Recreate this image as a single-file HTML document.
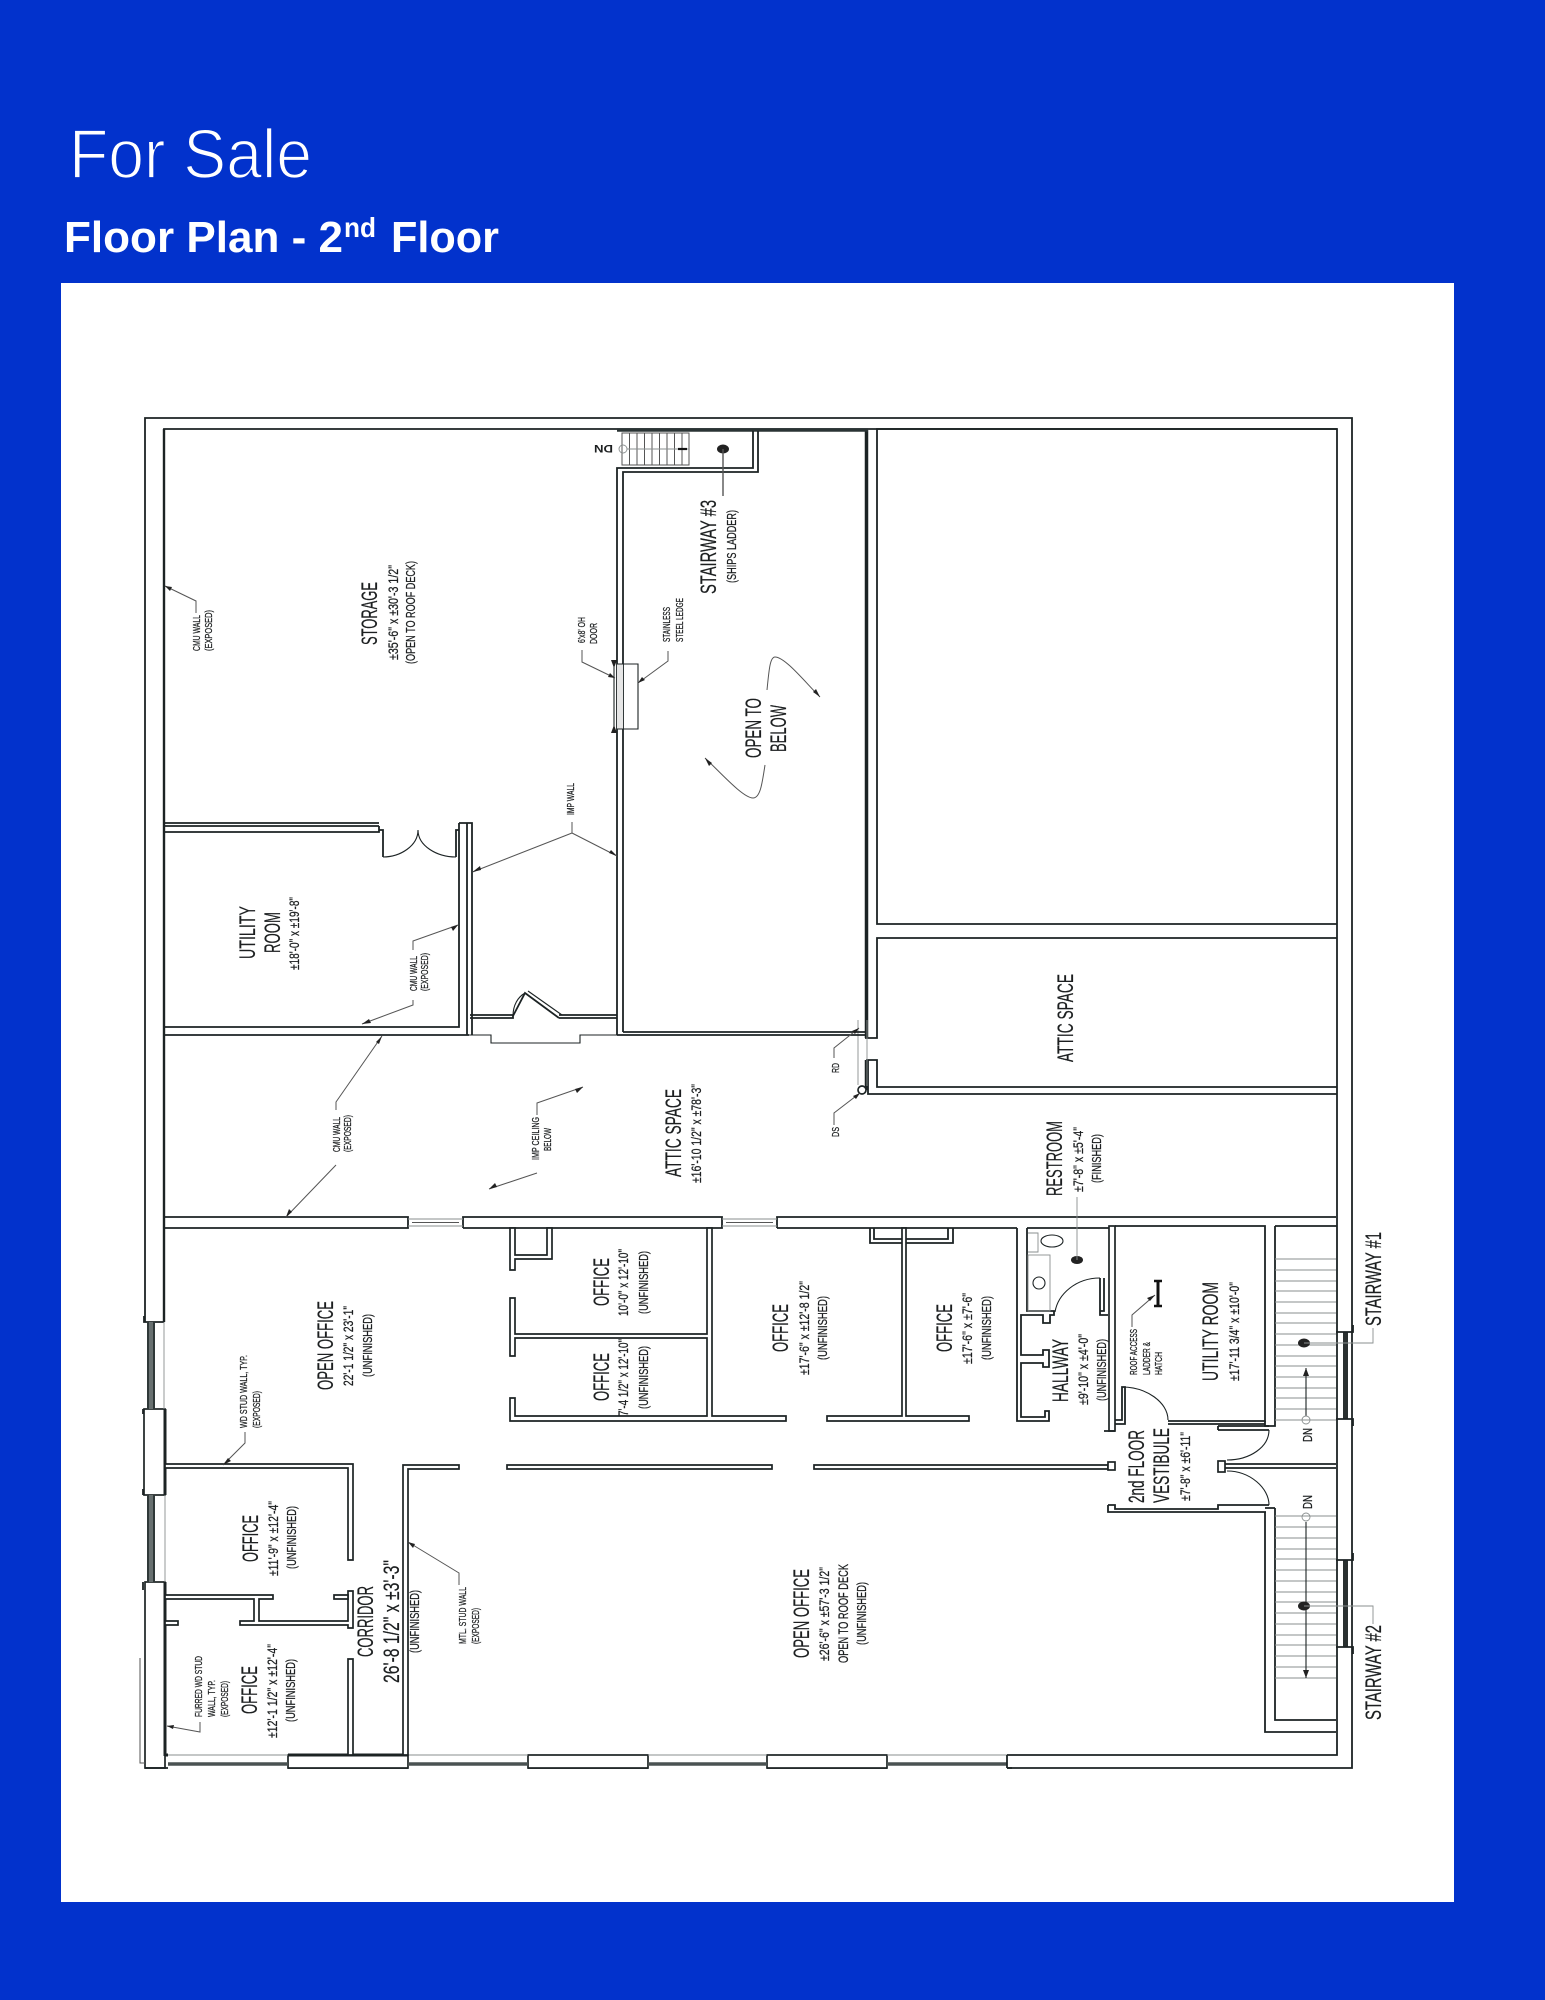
<!DOCTYPE html>
<html>
<head>
<meta charset="utf-8">
<style>
html,body{margin:0;padding:0;background:#0232cc}
svg{display:block}
text{font-family:"Liberation Sans",sans-serif;fill:#1c1f20}
.l{font-size:22px;stroke:#1c1f20;stroke-width:.2px}
.m{font-size:14px;stroke:#1c1f20;stroke-width:.25px}
.p{font-size:13px;stroke:#1c1f20;stroke-width:.25px}
.s{font-size:10px;stroke:#1c1f20;stroke-width:.25px}
.w{fill:none;stroke:#1c2324;stroke-width:1.8}
.t{fill:none;stroke:#1c2324;stroke-width:1.1}
.b{fill:#fff;stroke:#1c2324;stroke-width:1.7}
.g{fill:none;stroke:#8a8f8f;stroke-width:.9}
.r{fill:none;stroke:#555;stroke-width:1}
.a{fill:#222;stroke:none}
</style>
</head>
<body>
<svg width="1545" height="2000" viewBox="0 0 1545 2000" xmlns="http://www.w3.org/2000/svg">
<rect width="1545" height="2000" fill="#0232cc"/>
<rect x="61" y="283" width="1393" height="1619" fill="#fff"/>

<text x="69" y="178" font-size="70" textLength="243" lengthAdjust="spacingAndGlyphs" style="fill:#fff;stroke:#0232cc;stroke-width:1.7px">For Sale</text>
<text x="64" y="252" font-size="44" font-weight="700" textLength="279" lengthAdjust="spacingAndGlyphs" style="fill:#fff">Floor Plan - 2</text>
<text x="344" y="237" font-size="28" font-weight="700" textLength="32" lengthAdjust="spacingAndGlyphs" style="fill:#fff">nd</text>
<text x="391" y="252" font-size="44" font-weight="700" textLength="108" lengthAdjust="spacingAndGlyphs" style="fill:#fff">Floor</text>

<!-- building shell -->
<path class="w" d="M145 1322V418H1352V1768H1007"/>
<path class="w" d="M164 1322V429H1337V1755H1007"/>
<path class="w" style="stroke-width:2.4" d="M164 429V1322"/>

<!-- left wall piers and windows -->
<rect class="b" x="144" y="1409" width="21" height="86"/>
<rect class="b" x="145" y="1582" width="20" height="186"/>
<path class="w" style="stroke-width:3" d="M165 1409V1495M165 1582V1756"/>
<path class="w" d="M144 1316V1322H164M143 1409V1414M143 1495V1489M143 1582V1590"/>
<rect x="147" y="1322" width="8" height="87" fill="#687070"/>
<rect x="147" y="1495" width="8" height="87" fill="#687070"/>
<path d="M148 1322V1409M154 1322V1409M148 1495V1582M154 1495V1582" style="stroke:#2f3838;stroke-width:2;fill:none"/>
<path class="g" d="M164 1322V1409M165 1495V1582"/>
<path class="r" d="M140 1658V1763H145"/>

<!-- bottom wall piers/windows -->
<path class="w" d="M145 1768H168M288 1768H408M528 1768H648M767 1768H887M1007 1768H1012"/>
<rect class="b" x="288" y="1755" width="120" height="13"/>
<rect class="b" x="528" y="1755" width="120" height="13"/>
<rect class="b" x="767" y="1755" width="120" height="13"/>
<path class="w" style="stroke-width:3" d="M165 1755H168M288 1755H408"/>
<path class="g" d="M168 1755H288M408 1755H528M648 1755H767M887 1755H1007"/>
<path d="M168 1764H288M408 1764H528M648 1764H767M887 1764H1007" style="stroke:#4a5252;stroke-width:3.4;fill:none"/>
<path class="w" d="M1007 1755V1768"/>

<!-- right wall windows -->
<rect x="1338" y="1332" width="13" height="87" fill="#fff"/>
<rect x="1338" y="1560" width="13" height="87" fill="#fff"/>
<rect x="1343" y="1332" width="5" height="87" fill="#2a3030"/>
<rect x="1343" y="1560" width="5" height="87" fill="#2a3030"/>
<path class="w" d="M1336 1332H1353V1325M1336 1419H1353V1426M1336 1560H1353V1553M1336 1647H1353V1654"/>

<!-- attic/office horizontal wall -->
<path class="w" d="M164 1217H408V1228H164M463 1228V1217H722V1228H463M777 1228V1217H1336M777 1228H1017"/>
<path class="g" d="M408 1219H463M408 1226H463M722 1219H777M722 1226H777"/>
<path class="r" d="M412 1222.500H459M726 1222.500H773"/>

<!-- upper right rooms -->
<path class="w" d="M1337 429H877V924H1337"/>
<path class="w" d="M1337 938H877V1038H865"/>
<path d="M866.500 430V1038" style="stroke:#1c2324;stroke-width:3.5;fill:none"/>
<path class="w" d="M866 1060H877V1087H1337M1337 1094H868V1060"/>
<path d="M866.500 1060V1090" style="stroke:#1c2324;stroke-width:3.500;fill:none"/>
<circle class="b" cx="862" cy="1090" r="4"/>
<path class="g" d="M867 1020V1086M858 1020V1085"/>

<!-- open to below box -->
<path d="M617 430H868" style="stroke:#2a3334;stroke-width:3.500;fill:none"/>
<path class="w" d="M617 1035V468H753V431M623 1032V472H758V431"/>
<path class="w" d="M623 1032H865"/>
<path class="w" d="M617 1035H865"/>

<!-- stair 3 -->
<rect class="r" x="622" y="433" width="67" height="32"/>
<path class="r" d="M629.500 433V465M637 433V465M644.500 433V465M652 433V465M659.500 433V465M667 433V465M674.500 433V465M682 433V465"/>
<path class="g" d="M627 449H689"/>
<circle class="g" cx="623" cy="449" r="4"/>
<path d="M678 449H687" style="stroke:#111;stroke-width:2.200"/>
<text transform="translate(613,445) rotate(180)" font-weight="700" textLength="19" lengthAdjust="spacingAndGlyphs" style="font-size:11px">DN</text>
<ellipse class="a" cx="723" cy="449" rx="6" ry="4.500"/>
<path class="r" d="M723 449V496" style="stroke-width:1.400"/>

<!-- OH door -->
<rect x="617" y="664" width="6" height="65" fill="#e6e6e6"/>
<path class="t" d="M617 664H638V729H617"/>
<path class="t" d="M614 660V733"/>
<path class="a" d="M611 660H617L614 668ZM611 733H617L614 725Z"/>

<!-- utility room -->
<path class="w" d="M164 823H379M164 826H379M164 832H379V826M379 830H383V857M456 857V830H459"/>
<path class="t" d="M383 857C400 857 418 846 418 830C418 846 437 857 456 857"/>
<path class="w" d="M459 830V1027H164M459 823H472V1035M459 823V830M467 823V1035"/>
<path class="w" d="M164 1035H469"/>

<!-- IMP door / wall -->
<path class="w" d="M470 1015H513M470 1018H513V1015M559 1015H617M559 1018H617M559 1018L525 993L513 1016"/>
<path class="t" d="M562 1015L528 991"/>
<path class="t" d="M513 1016C513 1005 518 997 525 993"/>
<path class="t" d="M469 1035H491V1043H580V1035H617"/>

<!-- office partitions: left block -->
<path class="b" d="M165 1464H353V1560H348V1468H165Z"/>
<path class="b" d="M165 1595H273V1599H259V1621H348V1591H353V1628H348V1625H240V1621H254V1599H165Z"/>
<path class="b" d="M334 1595H348V1599H334Z"/>
<path class="b" d="M165 1621H178V1625H165Z"/>
<path class="b" d="M348 1659H353V1755H348Z"/>
<path class="b" d="M403 1755V1465H459V1469H408V1755Z"/>
<path class="w" style="stroke-width:3" d="M353 1755H403"/>

<!-- centre long wall -->
<path class="b" d="M507 1465H772V1469H507Z"/>
<path class="b" d="M814 1465H1108V1469H814Z"/>
<rect class="b" x="1108" y="1462" width="7" height="8"/>

<!-- offices block -->
<path class="b" d="M510 1228H515V1255H547V1228H552V1259H515V1270H510Z"/>
<path class="b" d="M510 1298H515V1334H707V1228H712V1416H786V1421H510V1398H515V1416H707V1338H515V1356H510Z"/>
<path class="b" d="M827 1416H902V1228H906V1416H969V1421H827Z"/>
<path class="w" d="M870 1228V1243H902M906 1243H953V1228M874 1228V1239H902M906 1239H948V1228"/>

<!-- hallway / restroom -->
<path class="w" d="M1017 1228V1421H1049V1411H1045V1417H1021V1363H1043V1367H1049V1350H1043V1355H1021V1315H1043V1323H1050V1315H1054V1311H1027V1228"/>
<path class="t" d="M1055 1312C1058 1294 1076 1278 1100 1278"/>
<path class="w" d="M1100 1278V1311H1104V1278M1100 1311V1315H1108"/>
<rect class="b" x="1109" y="1226" width="6" height="205"/>
<path class="w" d="M1104 1431H1115M1027 1228H1109"/>
<rect class="g" x="1028" y="1255" width="22" height="56"/>
<path class="g" d="M1028 1233H1038V1252H1028"/>
<ellipse class="t" cx="1052" cy="1241" rx="11" ry="6"/>
<circle class="t" cx="1039" cy="1283" r="6"/>
<ellipse class="a" cx="1077" cy="1260" rx="6" ry="4"/>
<path class="g" d="M1077 1197V1260"/>

<!-- utility room right -->
<path class="w" d="M1115 1226H1265V1421H1168M1265 1424H1168"/>
<path class="w" d="M1275 1226H1337M1275 1226V1426H1265V1421"/>
<path class="w" d="M1115 1420H1122V1387H1125V1424H1115"/>
<path class="t" d="M1122 1387C1146 1387 1168 1402 1168 1420"/>

<!-- vestibule -->
<path class="w" d="M1218 1426H1269M1218 1430H1269M1218 1426V1430"/>
<path class="t" d="M1269 1430C1269 1447 1250 1460 1227 1460"/>
<rect class="b" x="1218" y="1461" width="7" height="11"/>
<path class="w" d="M1225 1464H1336M1225 1468H1336"/>
<path class="t" d="M1227 1471C1250 1471 1269 1488 1269 1505"/>
<path class="w" d="M1108 1505H1115V1509H1218V1505H1269M1108 1505V1512H1266M1218 1509V1507"/>
<path class="w" d="M1265 1512V1732H1336M1275 1508V1720H1336M1265 1508H1275"/>

<!-- stairs 1 & 2 treads -->
<path class="g" d="M1275 1259H1336M1275 1270H1336M1275 1281H1336M1275 1291H1336M1275 1302H1336M1275 1313H1336M1275 1323H1336M1275 1334H1336M1275 1345H1336M1275 1356H1336M1275 1366H1336M1275 1377H1336M1275 1388H1336M1275 1398H1336M1275 1409H1336M1275 1420H1336"/>
<path class="g" d="M1275 1516H1336M1275 1527H1336M1275 1538H1336M1275 1549H1336M1275 1559H1336M1275 1570H1336M1275 1581H1336M1275 1592H1336M1275 1602H1336M1275 1613H1336M1275 1624H1336M1275 1635H1336M1275 1645H1336M1275 1656H1336M1275 1667H1336M1275 1678H1336"/>
<path class="t" d="M1306 1368V1416M1306 1522V1678"/>
<path class="a" d="M1303 1376L1306 1368L1309 1376ZM1303 1670L1306 1678L1309 1670Z"/>
<circle class="g" cx="1306" cy="1420" r="4"/>
<circle class="g" cx="1306" cy="1517" r="4"/>
<ellipse class="a" cx="1304" cy="1343" rx="6" ry="4.500"/>
<ellipse class="a" cx="1304" cy="1606" rx="6" ry="4.500"/>
<path class="g" d="M1304 1343H1373V1328M1304 1606H1373V1624"/>

<!-- ladder -->
<path d="M1158 1281V1306" style="stroke:#111;stroke-width:3;fill:none"/>
<path d="M1154 1281H1162M1154 1306H1162" style="stroke:#111;stroke-width:2.400;fill:none"/>

<!-- leaders -->
<path class="r" d="M165 586L196 601V613"/>
<path class="r" d="M615 678L582 662V650"/>
<path class="r" d="M638 683L668 661V651"/>
<path class="r" d="M572 822V833L472.500 872M572 833L617 856"/>
<path class="r" d="M458 925L413 941V950M413 1000V1005L362 1024"/>
<path class="r" d="M382 1036L336 1102V1110M336 1165L286 1217"/>
<path class="r" d="M583 1087L537 1103V1115M537 1173L489 1189"/>
<path class="r" d="M859 1028L834 1048V1058M860 1093L834 1113V1125"/>
<path class="r" d="M223 1465L245 1443V1432"/>
<path class="r" d="M167 1726L200 1732V1722"/>
<path class="r" d="M408 1542L459 1573V1585"/>
<path class="r" d="M1155 1295L1132 1315V1327"/>
<path class="r" d="M767 690C769 670 770 657 775 657C785 657 805 682 820 697"/>
<path class="r" d="M765 765C762 785 760 798 753 798C743 798 720 772 705 758"/>
<path class="a" d="M165 586L172 587L170 591ZM615 678L608 677L610 673ZM638 683L642 677L645 680ZM472.500 872L480 866L481 870ZM617 856L611 850L609 853ZM458 925L451 927L453 931ZM362 1024L369 1019L371 1023ZM382 1036L379 1044L376 1042ZM286 1217L289 1209L292 1212ZM583 1087L575 1089L577 1093ZM489 1189L497 1187L495 1183ZM859 1028L855 1034L852 1031ZM860 1093L856 1099L853 1096ZM223 1465L228 1458L231 1461ZM167 1726L174 1725L173 1729ZM408 1542L415 1544L413 1548ZM1155 1295L1150 1301L1147 1298ZM820 697L813 692L816 689ZM705 758L712 763L709 766Z"/>

<!-- labels -->
<g>
<text class="l" transform="translate(377,645) rotate(-90)" textLength="63" lengthAdjust="spacingAndGlyphs">STORAGE</text>
<text class="m" transform="translate(398,660) rotate(-90)" textLength="95" lengthAdjust="spacingAndGlyphs">±35'-6" x ±30'-3 1/2"</text>
<text class="p" transform="translate(415,664) rotate(-90)" textLength="103" lengthAdjust="spacingAndGlyphs">(OPEN TO ROOF DECK)</text>
<text class="s" transform="translate(200,651) rotate(-90)" textLength="36" lengthAdjust="spacingAndGlyphs">CMU WALL</text>
<text class="s" transform="translate(212,651) rotate(-90)" textLength="41" lengthAdjust="spacingAndGlyphs">(EXPOSED)</text>
<text class="s" transform="translate(585,643) rotate(-90)" textLength="26" lengthAdjust="spacingAndGlyphs">6'x8' OH</text>
<text class="s" transform="translate(597,644) rotate(-90)" textLength="21" lengthAdjust="spacingAndGlyphs">DOOR</text>
<text class="s" transform="translate(574,815) rotate(-90)" textLength="32" lengthAdjust="spacingAndGlyphs">IMP WALL</text>
<text class="l" transform="translate(716,594) rotate(-90)" textLength="94" lengthAdjust="spacingAndGlyphs">STAIRWAY #3</text>
<text class="p" transform="translate(736,583) rotate(-90)" textLength="73" lengthAdjust="spacingAndGlyphs">(SHIPS LADDER)</text>
<text class="s" transform="translate(670,642) rotate(-90)" textLength="35" lengthAdjust="spacingAndGlyphs">STAINLESS</text>
<text class="s" transform="translate(683,642) rotate(-90)" textLength="44" lengthAdjust="spacingAndGlyphs">STEEL LEDGE</text>
<text class="l" transform="translate(761,758) rotate(-90)" textLength="60" lengthAdjust="spacingAndGlyphs">OPEN TO</text>
<text class="l" transform="translate(786,752) rotate(-90)" textLength="47" lengthAdjust="spacingAndGlyphs">BELOW</text>
<text class="l" transform="translate(255,959) rotate(-90)" textLength="53" lengthAdjust="spacingAndGlyphs">UTILITY</text>
<text class="l" transform="translate(280,953) rotate(-90)" textLength="41" lengthAdjust="spacingAndGlyphs">ROOM</text>
<text class="m" transform="translate(299,970) rotate(-90)" textLength="73" lengthAdjust="spacingAndGlyphs">±18'-0" x ±19'-8"</text>
<text class="s" transform="translate(417,991) rotate(-90)" textLength="35" lengthAdjust="spacingAndGlyphs">CMU WALL</text>
<text class="s" transform="translate(428,991) rotate(-90)" textLength="38" lengthAdjust="spacingAndGlyphs">(EXPOSED)</text>
<text class="s" transform="translate(340,1152) rotate(-90)" textLength="35" lengthAdjust="spacingAndGlyphs">CMU WALL</text>
<text class="s" transform="translate(351,1152) rotate(-90)" textLength="37" lengthAdjust="spacingAndGlyphs">(EXPOSED)</text>
<text class="s" transform="translate(539,1160) rotate(-90)" textLength="43" lengthAdjust="spacingAndGlyphs">IMP CEILING</text>
<text class="s" transform="translate(551,1151) rotate(-90)" textLength="23" lengthAdjust="spacingAndGlyphs">BELOW</text>
<text class="l" transform="translate(681,1177) rotate(-90)" textLength="88" lengthAdjust="spacingAndGlyphs">ATTIC SPACE</text>
<text class="m" transform="translate(701,1183) rotate(-90)" textLength="99" lengthAdjust="spacingAndGlyphs">±16'-10 1/2" x ±78'-3"</text>
<text class="s" transform="translate(839,1073) rotate(-90)" textLength="10" lengthAdjust="spacingAndGlyphs">RD</text>
<text class="s" transform="translate(839,1137) rotate(-90)" textLength="10" lengthAdjust="spacingAndGlyphs">DS</text>
<text class="l" transform="translate(1073,1062) rotate(-90)" textLength="88" lengthAdjust="spacingAndGlyphs">ATTIC SPACE</text>
<text class="l" transform="translate(1062,1196) rotate(-90)" textLength="75" lengthAdjust="spacingAndGlyphs">RESTROOM</text>
<text class="m" transform="translate(1083,1192) rotate(-90)" textLength="65" lengthAdjust="spacingAndGlyphs">±7'-8" x ±5'-4"</text>
<text class="p" transform="translate(1101,1183) rotate(-90)" textLength="49" lengthAdjust="spacingAndGlyphs">(FINISHED)</text>

<text class="l" transform="translate(333,1390) rotate(-90)" textLength="89" lengthAdjust="spacingAndGlyphs">OPEN OFFICE</text>
<text class="m" transform="translate(353,1386) rotate(-90)" textLength="80" lengthAdjust="spacingAndGlyphs">22'-1 1/2" x 23'-1"</text>
<text class="p" transform="translate(372,1377) rotate(-90)" textLength="63" lengthAdjust="spacingAndGlyphs">(UNFINISHED)</text>
<text class="s" transform="translate(247,1428) rotate(-90)" textLength="73" lengthAdjust="spacingAndGlyphs">WD STUD WALL, TYP.</text>
<text class="s" transform="translate(260,1428) rotate(-90)" textLength="37" lengthAdjust="spacingAndGlyphs">(EXPOSED)</text>
<text class="l" transform="translate(258,1562) rotate(-90)" textLength="47" lengthAdjust="spacingAndGlyphs">OFFICE</text>
<text class="m" transform="translate(278,1576) rotate(-90)" textLength="75" lengthAdjust="spacingAndGlyphs">±11'-9" x ±12'-4"</text>
<text class="p" transform="translate(296,1569) rotate(-90)" textLength="63" lengthAdjust="spacingAndGlyphs">(UNFINISHED)</text>
<text class="l" transform="translate(257,1714) rotate(-90)" textLength="48" lengthAdjust="spacingAndGlyphs">OFFICE</text>
<text class="m" transform="translate(277,1738) rotate(-90)" textLength="94" lengthAdjust="spacingAndGlyphs">±12'-1 1/2" x ±12'-4"</text>
<text class="p" transform="translate(295,1722) rotate(-90)" textLength="63" lengthAdjust="spacingAndGlyphs">(UNFINISHED)</text>
<text class="s" transform="translate(202,1717) rotate(-90)" textLength="61" lengthAdjust="spacingAndGlyphs">FURRED WD STUD</text>
<text class="s" transform="translate(215,1717) rotate(-90)" textLength="37" lengthAdjust="spacingAndGlyphs">WALL, TYP.</text>
<text class="s" transform="translate(228,1717) rotate(-90)" textLength="36" lengthAdjust="spacingAndGlyphs">(EXPOSED)</text>
<text class="l" transform="translate(373,1657) rotate(-90)" textLength="71" lengthAdjust="spacingAndGlyphs">CORRIDOR</text>
<text class="l" transform="translate(399,1683) rotate(-90)" textLength="123" lengthAdjust="spacingAndGlyphs">26'-8 1/2" x ±3'-3"</text>
<text class="p" transform="translate(419,1653) rotate(-90)" textLength="63" lengthAdjust="spacingAndGlyphs">(UNFINISHED)</text>
<text class="s" transform="translate(466,1644) rotate(-90)" textLength="57" lengthAdjust="spacingAndGlyphs">MTL. STUD WALL</text>
<text class="s" transform="translate(479,1644) rotate(-90)" textLength="36" lengthAdjust="spacingAndGlyphs">(EXPOSED)</text>

<text class="l" transform="translate(609,1306) rotate(-90)" textLength="48" lengthAdjust="spacingAndGlyphs">OFFICE</text>
<text class="m" transform="translate(628,1316) rotate(-90)" textLength="67" lengthAdjust="spacingAndGlyphs">10'-0" x 12'-10"</text>
<text class="p" transform="translate(648,1314) rotate(-90)" textLength="63" lengthAdjust="spacingAndGlyphs">(UNFINISHED)</text>
<text class="l" transform="translate(609,1401) rotate(-90)" textLength="48" lengthAdjust="spacingAndGlyphs">OFFICE</text>
<text class="m" transform="translate(628,1416) rotate(-90)" textLength="77" lengthAdjust="spacingAndGlyphs">7'-4 1/2" x 12'-10"</text>
<text class="p" transform="translate(648,1409) rotate(-90)" textLength="63" lengthAdjust="spacingAndGlyphs">(UNFINISHED)</text>
<text class="l" transform="translate(788,1352) rotate(-90)" textLength="48" lengthAdjust="spacingAndGlyphs">OFFICE</text>
<text class="m" transform="translate(809,1375) rotate(-90)" textLength="94" lengthAdjust="spacingAndGlyphs">±17'-6" x ±12'-8 1/2"</text>
<text class="p" transform="translate(827,1360) rotate(-90)" textLength="64" lengthAdjust="spacingAndGlyphs">(UNFINISHED)</text>
<text class="l" transform="translate(952,1352) rotate(-90)" textLength="48" lengthAdjust="spacingAndGlyphs">OFFICE</text>
<text class="m" transform="translate(972,1364) rotate(-90)" textLength="71" lengthAdjust="spacingAndGlyphs">±17'-6" x ±7'-6"</text>
<text class="p" transform="translate(991,1360) rotate(-90)" textLength="64" lengthAdjust="spacingAndGlyphs">(UNFINISHED)</text>
<text class="l" transform="translate(809,1658) rotate(-90)" textLength="89" lengthAdjust="spacingAndGlyphs">OPEN OFFICE</text>
<text class="m" transform="translate(829,1661) rotate(-90)" textLength="94" lengthAdjust="spacingAndGlyphs">±26'-6" x ±57'-3 1/2"</text>
<text class="m" transform="translate(848,1663) rotate(-90)" textLength="99" lengthAdjust="spacingAndGlyphs">OPEN TO  ROOF DECK</text>
<text class="p" transform="translate(866,1645) rotate(-90)" textLength="63" lengthAdjust="spacingAndGlyphs">(UNFINISHED)</text>

<text class="l" transform="translate(1068,1402) rotate(-90)" textLength="63" lengthAdjust="spacingAndGlyphs">HALLWAY</text>
<text class="m" transform="translate(1088,1405) rotate(-90)" textLength="71" lengthAdjust="spacingAndGlyphs">±9'-10" x ±4'-0"</text>
<text class="p" transform="translate(1106,1401) rotate(-90)" textLength="62" lengthAdjust="spacingAndGlyphs">(UNFINISHED)</text>
<text class="s" transform="translate(1137,1375) rotate(-90)" textLength="46" lengthAdjust="spacingAndGlyphs">ROOF ACCESS</text>
<text class="s" transform="translate(1150,1375) rotate(-90)" textLength="33" lengthAdjust="spacingAndGlyphs">LADDER &amp;</text>
<text class="s" transform="translate(1162,1375) rotate(-90)" textLength="23" lengthAdjust="spacingAndGlyphs">HATCH</text>
<text class="l" transform="translate(1218,1381) rotate(-90)" textLength="99" lengthAdjust="spacingAndGlyphs">UTILITY ROOM</text>
<text class="m" transform="translate(1239,1381) rotate(-90)" textLength="99" lengthAdjust="spacingAndGlyphs">±17'-11 3/4" x ±10'-0"</text>
<text class="l" transform="translate(1144,1503) rotate(-90)" textLength="73" lengthAdjust="spacingAndGlyphs">2nd FLOOR</text>
<text class="l" transform="translate(1169,1503) rotate(-90)" textLength="75" lengthAdjust="spacingAndGlyphs">VESTIBULE</text>
<text class="m" transform="translate(1190,1501) rotate(-90)" textLength="69" lengthAdjust="spacingAndGlyphs">±7'-8" x ±6'-11"</text>
<text class="l" transform="translate(1381,1326) rotate(-90)" textLength="94" lengthAdjust="spacingAndGlyphs">STAIRWAY #1</text>
<text class="l" transform="translate(1381,1720) rotate(-90)" textLength="95" lengthAdjust="spacingAndGlyphs">STAIRWAY #2</text>
<text class="p" transform="translate(1312,1442) rotate(-90)" textLength="14" lengthAdjust="spacingAndGlyphs">DN</text>
<text class="p" transform="translate(1312,1509) rotate(-90)" textLength="14" lengthAdjust="spacingAndGlyphs">DN</text>
</g>
</svg>
</body>
</html>
